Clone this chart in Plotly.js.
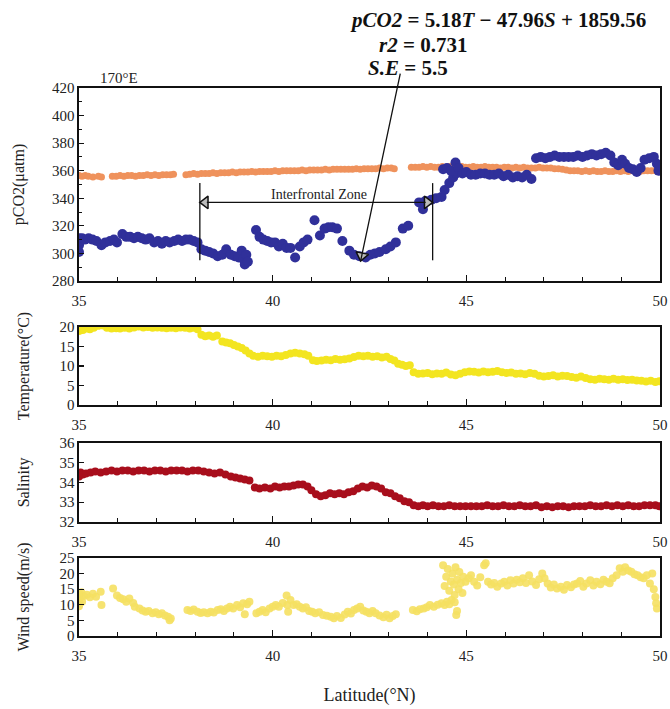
<!DOCTYPE html>
<html><head><meta charset="utf-8">
<script src="https://cdn.plot.ly/plotly-3.0.1.min.js"></script>
<style>html,body{margin:0;padding:0;background:#fff}</style>
</head><body><div id="chart" style="width:670px;height:709px"></div>
<script>
// ---- pCO2 air (orange) ----
const latAir = [35.00,35.08,35.16,35.24,35.36,35.50,35.58,
35.86,35.96,36.06,36.16,36.26,36.36,36.46,36.56,36.66,36.76,36.86,36.96,37.06,37.16,37.26,37.36,37.44,
37.76,37.86,37.96,38.06,38.16,38.26,38.36,38.46,38.56,38.66,38.76,38.86,38.96,39.06,39.16,39.26,39.36,39.46,39.56,39.66,39.76,39.86,39.96,40.06,40.16,40.26,40.36,40.46,40.56,40.66,40.76,40.86,40.96,41.06,41.16,41.26,41.36,41.46,41.56,41.66,41.76,41.86,41.96,42.06,42.16,42.26,42.36,42.46,42.56,42.66,42.76,42.86,42.96,43.06,43.14,
43.58,43.68,43.78,43.88,43.98,44.08,44.18,
44.28,44.38,44.48,44.58,44.68,44.78,44.88,44.98,45.08,45.18,45.28,45.38,45.48,45.58,45.68,45.78,45.88,45.98,46.08,46.18,46.28,46.38,46.48,46.58,46.68,46.78,46.88,46.98,47.08,47.18,47.28,47.38,47.48,47.58,47.68,47.78,47.88,47.98,48.08,48.18,48.28,48.38,48.48,48.58,48.68,48.78,48.88,48.98,49.08,49.18,49.28,49.38,49.48,49.58,49.68,49.78,49.88,49.98];
const pco2Air = [356.5,356,356.5,356,355.5,356,355.5,
356,356,356.5,356,356.5,356.5,356,356.5,356.5,357,356.5,357,356.5,357,357,357,357.5,
357,357.5,358,357.5,358,358,358,358.5,358,358.5,358.5,358.5,359,358.5,359,359,359,359.5,359,359.5,359.5,359.5,359.5,360,359.5,360,360,360,360,360,360.5,360,360.5,360.5,360.5,360.5,361,360.5,361,361,361,361,361,361,361.5,361,361.5,361.5,361.5,361.5,362,361.5,362,362,361.5,
362.5,362.5,362.5,363,362.5,363,362.5,
362.5,363,362.5,363,362.5,362.5,363,362.5,362.5,363,362.5,362.5,363,362.5,362.5,362.5,362,362.5,362.5,362,362.5,362,362.5,362,362,362,362.5,362,362,362,361.5,361.5,361,360.5,360,360,360,359.5,360,359.5,360,359.5,359.5,360,359.5,359.5,360,359.5,360,359.5,360,360,359.5,360,360,360,360,360];

// ---- pCO2 sea (blue) ----
const latSea = [35.00,35.00,35.01,35.03,35.08,35.15,35.25,35.35,35.45,35.58,35.68,35.80,35.90,35.98,36.12,36.22,36.32,36.42,36.52,36.62,36.72,36.82,36.94,37.04,37.14,37.24,37.34,37.46,37.56,37.66,37.76,37.86,37.96,38.06,38.16,38.26,38.36,38.46,38.58,38.70,38.80,38.92,39.02,39.12,39.20,39.24,39.28,39.32,39.36,
39.57,39.66,39.76,39.86,39.96,40.06,40.16,40.26,40.36,40.46,40.58,40.70,40.80,40.90,41.08,41.22,41.34,41.44,41.54,41.66,41.80,41.98,42.10,42.24,42.40,42.52,42.64,42.76,42.92,43.04,43.18,43.36,43.50,43.78,43.88,43.94,44.10,44.22,44.36,44.44,44.56,44.66,44.74,44.40,44.50,44.60,44.72,44.80,44.90,
45.00,45.12,45.24,45.36,45.48,45.60,45.72,45.84,45.96,46.08,46.20,46.32,46.44,46.56,46.68,46.80,46.92,47.04,47.16,47.28,47.40,47.52,47.64,47.76,47.88,48.00,48.12,48.24,48.36,48.48,48.60,48.72,48.82,48.92,49.02,49.10,49.20,49.30,49.40,49.50,49.60,49.72,49.84,49.92,49.96,49.98];
const pco2Sea = [301,306,311,309,311,310,311,310,309,306,308,309,310,308,314,312,312,311,312,311,310,311,308,309,307,309,308,309,310,309,310,310,309,308,303,302,301,300,298,299,303,299,298,297,302,296,292,299,294,
317,312,310,309,308,308,305,307,304,304,297,305,308,310,324,313,318,319,319,318,309,302,299,298,297,299,300,301,303,305,308,318,320,337,332,338,339,340,341,346,351,355,358,361,362,360,366,362,358,
359,357,357,358,358,357,357,358,356,357,355,356,355,357,354,369,370,369,370,371,370,370,370,370,371,370,371,372,371,372,373,371,366,364,368,365,362,361,359,362,368,369,370,365,360,364];

// ---- Temperature ----
const latTemp = [35.00,35.04,35.10,35.18,35.28,35.38,35.50,35.60,35.72,35.84,35.96,36.06,36.18,36.30,36.42,36.54,36.66,36.78,36.90,37.02,37.14,37.26,37.38,37.50,37.62,37.74,37.86,37.96,38.06,38.16,38.26,38.36,38.46,38.56,38.70,38.80,38.90,39.00,39.10,39.20,39.30,39.40,39.50,39.62,39.74,39.86,39.98,40.10,40.22,40.34,40.46,40.58,40.70,40.82,40.92,41.04,41.14,41.26,41.38,41.50,41.62,41.74,41.86,41.98,42.10,42.22,42.34,42.46,42.58,42.70,42.82,42.94,43.04,43.14,43.24,43.34,43.44,43.54,43.64,43.76,43.88,44.00,44.12,44.24,44.36,44.48,44.60,44.72,44.84,44.96,45.08,45.20,45.32,45.44,45.56,45.68,45.80,45.92,46.04,46.16,46.28,46.40,46.52,46.64,46.76,46.88,47.00,47.12,47.24,47.36,47.48,47.60,47.72,47.84,47.96,48.08,48.20,48.32,48.44,48.56,48.68,48.80,48.92,49.04,49.16,49.28,49.40,49.52,49.64,49.76,49.88,49.98];
const temperature = [19.0,19.8,19.2,19.6,19.4,19.8,20.3,20.4,19.8,19.6,19.7,19.6,19.8,19.6,19.9,20.1,19.9,20.0,19.8,19.9,19.8,19.7,19.8,19.7,19.9,19.8,19.6,19.8,19.4,18.0,17.6,17.8,17.5,17.8,16.3,16.0,15.8,15.4,15.0,14.6,14.0,13.2,12.6,12.4,12.6,12.5,12.4,12.6,12.5,12.8,13.2,13.4,13.2,13.0,12.6,11.5,11.3,11.4,11.6,11.5,11.8,11.6,11.7,11.9,12.3,12.6,12.5,12.6,12.4,12.5,12.2,12.4,11.8,11.4,10.6,10.3,10.0,10.2,8.4,8.0,8.1,8.2,7.9,8.1,8.0,8.3,7.8,7.6,8.0,8.4,8.6,8.5,8.3,8.6,8.4,8.5,8.7,8.4,8.2,8.3,8.0,8.1,7.9,8.2,8.0,7.5,7.3,7.4,7.6,7.3,7.5,7.4,7.2,7.0,7.3,6.9,6.6,6.5,6.7,6.6,6.5,6.7,6.5,6.6,6.4,6.5,6.3,6.2,6.0,6.2,5.9,6.1];

// ---- Salinity ----
const latSal = [35.00,35.04,35.10,35.18,35.30,35.42,35.56,35.70,35.84,35.98,36.12,36.26,36.40,36.54,36.68,36.82,36.96,37.10,37.24,37.38,37.52,37.66,37.80,37.94,38.08,38.22,38.36,38.50,38.64,38.78,38.92,39.04,39.16,39.28,39.40,39.54,39.66,39.80,39.94,40.06,40.18,40.30,40.42,40.54,40.66,40.78,40.90,41.00,41.12,41.24,41.36,41.48,41.60,41.72,41.84,41.96,42.08,42.20,42.32,42.44,42.56,42.68,42.80,42.92,43.04,43.16,43.28,43.40,43.52,43.64,43.76,43.88,44.00,44.14,44.28,44.42,44.56,44.70,44.84,44.98,45.12,45.26,45.40,45.54,45.68,45.82,45.96,46.10,46.24,46.38,46.52,46.66,46.80,46.94,47.08,47.22,47.36,47.50,47.64,47.78,47.92,48.06,48.20,48.34,48.48,48.62,48.76,48.90,49.04,49.18,49.32,49.46,49.60,49.74,49.88,49.98];
const salinity = [34.3,34.5,34.4,34.45,34.5,34.55,34.5,34.55,34.6,34.55,34.6,34.6,34.55,34.6,34.6,34.55,34.6,34.6,34.55,34.6,34.6,34.6,34.55,34.6,34.6,34.55,34.5,34.45,34.5,34.4,34.3,34.25,34.2,34.15,34.1,33.75,33.7,33.75,33.7,33.8,33.75,33.8,33.8,33.85,33.9,33.9,33.8,33.6,33.4,33.3,33.35,33.45,33.4,33.45,33.4,33.5,33.55,33.7,33.8,33.75,33.85,33.8,33.7,33.5,33.45,33.3,33.2,33.05,33.0,32.85,32.8,32.85,32.8,32.85,32.8,32.8,32.85,32.8,32.8,32.8,32.8,32.8,32.8,32.85,32.8,32.8,32.85,32.8,32.8,32.85,32.8,32.8,32.85,32.75,32.8,32.75,32.8,32.8,32.75,32.8,32.8,32.8,32.85,32.8,32.8,32.85,32.8,32.85,32.8,32.85,32.8,32.8,32.85,32.85,32.85,32.8];

// ---- Wind speed ----
const latWind = [35.00,35.00,35.01,35.02,35.04,35.06,35.08,35.12,35.20,35.28,35.36,35.44,35.56,35.58,35.88,35.98,36.06,36.14,36.22,36.30,36.40,36.44,36.56,36.64,36.72,36.80,36.90,36.98,37.06,37.14,37.22,37.30,37.34,37.37,37.80,37.88,37.96,38.06,38.14,38.22,38.32,38.40,38.48,38.58,38.66,38.74,38.82,38.90,38.98,39.08,39.16,39.24,39.28,39.34,39.40,39.58,39.66,39.74,39.82,39.92,40.00,40.08,40.16,40.26,40.36,40.38,40.40,40.46,40.54,40.62,40.70,40.78,40.86,40.94,41.02,41.10,41.20,41.30,41.40,41.50,41.58,41.66,41.76,41.86,41.94,42.02,42.10,42.18,42.26,42.34,42.42,42.50,42.58,42.66,42.76,42.86,42.94,43.02,43.10,43.18,43.62,43.72,43.80,43.90,43.98,44.06,44.16,44.26,44.36,44.44,44.50,44.56,44.62,44.70,44.74,44.76,44.40,44.44,44.48,44.52,44.56,44.60,44.64,44.68,44.70,44.72,44.76,44.80,44.82,44.86,44.90,44.92,44.98,45.06,45.12,45.20,45.28,45.36,45.46,45.50,45.56,45.64,45.72,45.80,45.90,45.98,46.06,46.14,46.22,46.30,46.38,46.46,46.54,46.62,46.70,46.80,46.88,46.96,47.02,47.10,47.18,47.26,47.34,47.44,47.52,47.60,47.70,47.78,47.86,47.94,48.02,48.10,48.20,48.28,48.36,48.46,48.54,48.62,48.70,48.78,48.88,48.96,49.04,49.10,49.18,49.26,49.34,49.42,49.50,49.58,49.66,49.74,49.80,49.84,49.88,49.90,49.92];
const windSpeed = [9.5,11.5,13.5,10.5,12.5,14.0,11.0,12.8,13.2,12.4,13.5,12.6,14.2,9.9,15.2,13.0,12.2,11.8,11.0,12.0,10.6,9.4,8.8,8.2,7.8,8.0,7.3,7.6,7.0,7.3,6.6,6.2,5.0,5.6,8.3,8.0,8.5,7.8,7.4,7.6,7.3,7.8,7.5,8.3,8.6,8.0,8.8,9.4,8.8,9.9,9.2,10.5,7.0,10.2,11.0,7.3,7.8,8.3,7.6,8.8,9.4,9.9,9.4,10.6,13.0,9.9,7.8,11.5,9.9,10.2,9.4,8.8,9.2,8.0,7.8,7.3,7.6,6.7,6.5,6.2,5.7,6.4,5.8,6.9,7.8,7.2,8.3,8.8,9.4,8.2,7.8,7.3,8.0,7.3,6.6,6.0,6.8,5.7,6.4,7.0,8.3,7.9,8.6,8.8,9.2,9.9,9.4,10.0,10.5,9.9,11.0,10.2,11.5,10.8,6.7,8.0,22.7,16.0,19.0,21.5,14.5,17.5,20.0,16.5,13.1,22.0,18.0,15.0,20.5,17.0,13.8,19.0,17.4,18.5,19.5,17.4,16.2,18.8,22.7,23.3,17.4,16.5,17.0,15.8,16.8,17.4,16.2,17.9,16.8,18.0,17.2,18.5,17.0,19.5,17.5,16.3,18.2,20.0,18.5,16.8,15.5,16.5,15.2,15.8,14.8,16.3,15.6,16.5,16.8,17.6,15.8,16.8,17.9,16.2,17.4,16.6,18.0,17.4,16.9,18.5,19.5,21.7,20.6,22.0,21.0,20.6,19.8,19.5,18.8,18.5,19.5,16.8,20.0,15.0,12.5,10.5,8.8];

const serif = 'Liberation Serif, Times New Roman, serif';
const ink = '#111';

function xAx(anchor, extra) {
  return Object.assign({
    anchor: anchor, domain: [0, 1], range: [35, 50], tick0: 35, dtick: 5,
    ticks: 'inside', ticklen: 6, tickwidth: 1.2, tickcolor: ink,
    minor: {dtick: 1, ticks: 'inside', ticklen: 4, tickcolor: ink, tickwidth: 1},
    showline: true, mirror: true, linecolor: ink, linewidth: 1.6,
    showgrid: false, zeroline: false, ticklabelstandoff: 5,
    tickfont: {family: serif, size: 15, color: '#222'}
  }, extra || {});
}
function yAx(anchor, domain, range, dtick, title, standoff, minor) {
  const a = {
    anchor: anchor, domain: domain, range: range, dtick: dtick, tick0: range[0],
    ticks: 'inside', ticklen: 5, tickwidth: 1.2, tickcolor: ink,
    showline: true, mirror: true, linecolor: ink, linewidth: 1.6,
    showgrid: false, zeroline: false,
    tickfont: {family: serif, size: 15, color: '#222'},
    title: {text: title, font: {family: serif, size: 16, color: '#222'}, standoff: standoff}
  };
  if (minor) a.minor = {dtick: minor, ticks: 'inside', ticklen: 3, tickcolor: ink, tickwidth: 1};
  return a;
}

const traces = [
  {x: latAir, y: pco2Air, xaxis: 'x', yaxis: 'y', type: 'scatter', mode: 'markers',
   marker: {color: '#ef925c', size: 7}},
  {x: latSea, y: pco2Sea, xaxis: 'x', yaxis: 'y', type: 'scatter', mode: 'markers',
   marker: {color: '#30309a', size: 10}},
  {x: latTemp, y: temperature, xaxis: 'x2', yaxis: 'y2', type: 'scatter', mode: 'markers',
   marker: {color: '#f3e520', size: 8}},
  {x: latSal, y: salinity, xaxis: 'x3', yaxis: 'y3', type: 'scatter', mode: 'markers',
   marker: {color: '#a80e1c', size: 8}},
  {x: latWind, y: windSpeed, xaxis: 'x4', yaxis: 'y4', type: 'scatter', mode: 'markers',
   marker: {color: '#f5e062', size: 8, opacity: 0.9}},
  // arrowheads (decoration)
  {x: [38.26], y: [337], xaxis: 'x', yaxis: 'y', type: 'scatter', mode: 'markers', hoverinfo: 'skip',
   marker: {symbol: 'triangle-left', size: 11, color: '#bbbbbb', line: {color: ink, width: 1.5}}},
  {x: [43.99], y: [337], xaxis: 'x', yaxis: 'y', type: 'scatter', mode: 'markers', hoverinfo: 'skip',
   marker: {symbol: 'triangle-right', size: 11, color: '#bbbbbb', line: {color: ink, width: 1.5}}},
  {x: [42.30], y: [298.3], xaxis: 'x', yaxis: 'y', type: 'scatter', mode: 'markers', hoverinfo: 'skip',
   marker: {symbol: 'triangle-down', angle: 12, size: 11, color: '#bbbbbb', line: {color: ink, width: 1.5}}}
];

const layout = {
  width: 670, height: 709,
  margin: {l: 79, r: 10, t: 0, b: 0},
  paper_bgcolor: '#fff', plot_bgcolor: '#fff',
  showlegend: false,
  font: {family: serif, color: '#222'},
  xaxis: xAx('y'),
  xaxis2: xAx('y2'),
  xaxis3: xAx('y3'),
  xaxis4: xAx('y4', {title: {text: 'Latitude(°N)', font: {family: serif, size: 18, color: '#222'}, standoff: 26}}),
  yaxis: yAx('x', [0.6037, 0.8759], [280, 420], 20, 'pCO2(μatm)', 23, 10),
  yaxis2: yAx('x2', [0.4288, 0.5388], [0, 20], 5, 'Temperature(°C)', 26),
  yaxis3: yAx('x3', [0.2638, 0.3752], [32, 36], 1, 'Salinity', 26),
  yaxis4: yAx('x4', [0.1030, 0.2130], [0, 25], 5, 'Wind speed(m/s)', 26),
  shapes: [
    {type: 'line', xref: 'x', yref: 'y', x0: 38.12, x1: 38.12, y0: 295, y1: 351, line: {color: ink, width: 1.3}},
    {type: 'line', xref: 'x', yref: 'y', x0: 44.13, x1: 44.13, y0: 295, y1: 351, line: {color: ink, width: 1.3}},
    {type: 'line', xref: 'x', yref: 'y', x0: 38.3, x1: 43.95, y0: 337, y1: 337, line: {color: ink, width: 1.3}}
  ],
  annotations: [
    {text: '170°E', xref: 'x', yref: 'paper', x: 35.5, y: 0.8759, xanchor: 'left', yanchor: 'bottom',
     showarrow: false, font: {family: serif, size: 15, color: '#222'}},
    {text: 'Interfrontal Zone', xref: 'x', yref: 'y', x: 41.2, y: 343, xanchor: 'center', yanchor: 'middle',
     showarrow: false, font: {family: serif, size: 14, color: '#222'}},
    {text: '<b><i>pCO2</i> = 5.18<i>T</i> − 47.96<i>S</i> + 1859.56</b>', xref: 'paper', yref: 'paper',
     x: 0.7216, y: 0.9718, xanchor: 'center', yanchor: 'middle', showarrow: false,
     font: {family: serif, size: 21, color: '#111'}},
    {text: '<b><i>r2</i> = 0.731</b>', xref: 'paper', yref: 'paper',
     x: 0.5928, y: 0.9365, xanchor: 'center', yanchor: 'middle', showarrow: false,
     font: {family: serif, size: 21, color: '#111'}},
    {text: '<b><i>S.E</i> = 5.5</b>', xref: 'paper', yref: 'paper',
     x: 0.567, y: 0.904, xanchor: 'center', yanchor: 'middle', showarrow: false,
     font: {family: serif, size: 21, color: '#111'}},
    {text: '', xref: 'x', yref: 'y', x: 42.27, y: 294.4, axref: 'pixel', ayref: 'pixel',
     ax: 40, ay: -189, showarrow: true, arrowhead: 0, arrowwidth: 1.3, arrowcolor: ink, standoff: 0}
  ]
};

Plotly.newPlot('chart', traces, layout, {displayModeBar: false, staticPlot: true});
</script>
</body></html>
